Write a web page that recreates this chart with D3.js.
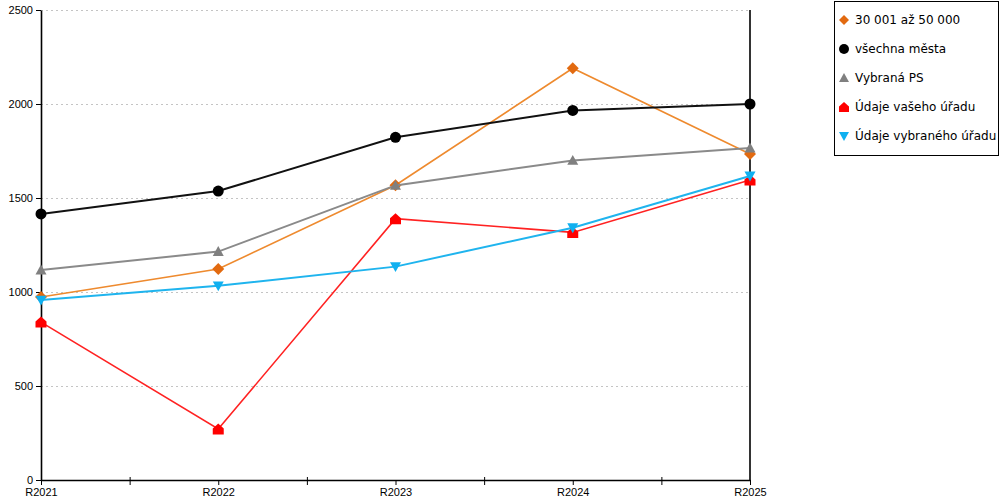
<!DOCTYPE html>
<html lang="cs">
<head>
    <meta charset="UTF-8">
    <title>Srovnání R2021–R2025</title>
    <script src="https://d3js.org/d3.v7.min.js"></script>
    <style>
        body { margin: 0; background: #fff; }
        svg { display: block; font-family: "DejaVu Sans", sans-serif; }
    </style>
</head>
<body>
    <svg width="1000" height="500"></svg>
    <script>
        const categories = ['R2021', 'R2022', 'R2023', 'R2024', 'R2025'];
        const yTicks = [0, 500, 1000, 1500, 2000, 2500];

        const seriesNames = ['30 001 až 50 000', 'všechna města', 'Vybraná PS', 'Údaje vašeho úřadu', 'Údaje vybraného úřadu'];
        const valsMesta3050 = [973, 1122, 1568, 2190, 1734];
        const valsVsechna = [1415, 1537, 1823, 1966, 2000];
        const valsPS = [1117, 1215, 1567, 1700, 1766];
        const valsVasUrad = [840, 271, 1390, 1317, 1596];
        const valsVybranyUrad = [957, 1033, 1135, 1342, 1617];

        const seriesValues = [valsMesta3050, valsVsechna, valsPS, valsVasUrad, valsVybranyUrad];
        const lineColors = ['#ee8a2e', '#111111', '#8a8a8a', '#ff2222', '#1fb4ee'];
        const markColors = ['#e26a10', '#000000', '#808080', '#ff0000', '#10b0f0'];
        const lineWidths = [1.6, 2, 2, 1.6, 2];
        const markers = ['diamond', 'circle', 'triangle', 'house', 'down'];

        const plotLeft = 41, plotRight = 750, plotTop = 10, plotBottom = 480;

        const x = d3.scaleLinear().domain([0, categories.length - 1]).range([plotLeft, plotRight]);
        const y = d3.scaleLinear().domain([0, 2500]).range([plotBottom, plotTop]);

        const svg = d3.select('svg');

        // grid
        svg.append('g')
            .selectAll('line')
            .data(yTicks.filter(d => d > 0))
            .enter()
            .append('line')
            .attr('x1', plotLeft).attr('x2', plotRight)
            .attr('y1', d => y(d) + 0.5).attr('y2', d => y(d) + 0.5)
            .attr('stroke', '#c4c4c4')
            .attr('stroke-dasharray', '2,3');

        // right border
        svg.append('line')
            .attr('x1', plotRight).attr('x2', plotRight)
            .attr('y1', plotTop).attr('y2', plotBottom)
            .attr('stroke', '#000')
            .attr('stroke-width', 1.6);

        // y axis
        const yAxis = svg.append('g')
            .attr('transform', `translate(${plotLeft},0)`)
            .call(d3.axisLeft(y).tickValues(yTicks).tickFormat(d3.format('d'))
                .tickSize(5).tickSizeOuter(0).tickPadding(3));
        yAxis.selectAll('text').style('font-size', '11px').attr('fill', '#000');
        yAxis.selectAll('line, path').attr('stroke', '#000');
        yAxis.select('.domain').attr('stroke-width', 1.6);

        // x axis, ticks at every half step, labels only at categories
        const xTickVals = d3.range(0, categories.length - 0.99, 0.5);
        const xAxis = svg.append('g')
            .attr('transform', `translate(0,${plotBottom})`)
            .call(d3.axisBottom(x).tickValues(xTickVals).tickSize(5).tickSizeOuter(0).tickPadding(3)
                .tickFormat(d => Number.isInteger(d) ? categories[d] : ''));
        xAxis.selectAll('text').style('font-size', '11px').attr('fill', '#000');
        xAxis.selectAll('line, path').attr('stroke', '#000');
        xAxis.select('.domain').attr('stroke-width', 1.6);
        xAxis.selectAll('.tick line').filter(d => !Number.isInteger(d)).attr('y1', -3);

        const symbolPath = (type, s) => {
            switch (type) {
                case 'diamond': return `M0,${-s}L${s},0L0,${s}L${-s},0Z`;
                case 'circle': return d3.symbol(d3.symbolCircle, Math.PI * s * s)();
                case 'triangle': return `M0,${-s}L${s},${s * 0.8}L${-s},${s * 0.8}Z`;
                case 'down': return `M0,${s}L${s},${-s * 0.8}L${-s},${-s * 0.8}Z`;
                case 'house': return `M${-s},${s}L${s},${s}L${s},${-s * 0.1}L0,${-s}L${-s},${-s * 0.1}Z`;
            }
        };

        const line = d3.line().x((d, i) => x(i)).y(d => y(d));

        seriesValues.forEach((vals, k) => {
            const g = svg.append('g');
            g.append('path')
                .attr('d', line(vals))
                .attr('fill', 'none')
                .attr('stroke', lineColors[k])
                .attr('stroke-width', lineWidths[k]);
            g.selectAll('path.mark')
                .data(vals)
                .enter()
                .append('path')
                .attr('class', 'mark')
                .attr('transform', (d, i) => `translate(${x(i)},${y(d)})`)
                .attr('d', symbolPath(markers[k], markers[k] === 'diamond' ? 6 : 5.5))
                .attr('fill', markColors[k]);
        });

        // legend
        const legend = svg.append('g');
        legend.append('rect')
            .attr('x', 834.5).attr('y', 1.5)
            .attr('width', 164).attr('height', 154)
            .attr('fill', '#fff').attr('stroke', '#000');
        const items = legend.selectAll('g.item')
            .data(seriesNames)
            .enter()
            .append('g')
            .attr('transform', (d, i) => `translate(844,${20 + i * 29})`);
        items.append('path')
            .attr('d', (d, i) => symbolPath(markers[i], 5))
            .attr('fill', (d, i) => markColors[i]);
        items.append('text')
            .attr('x', 11)
            .attr('dy', '0.35em')
            .style('font-size', '12px')
            .text(d => d);
    </script>
</body>
</html>
